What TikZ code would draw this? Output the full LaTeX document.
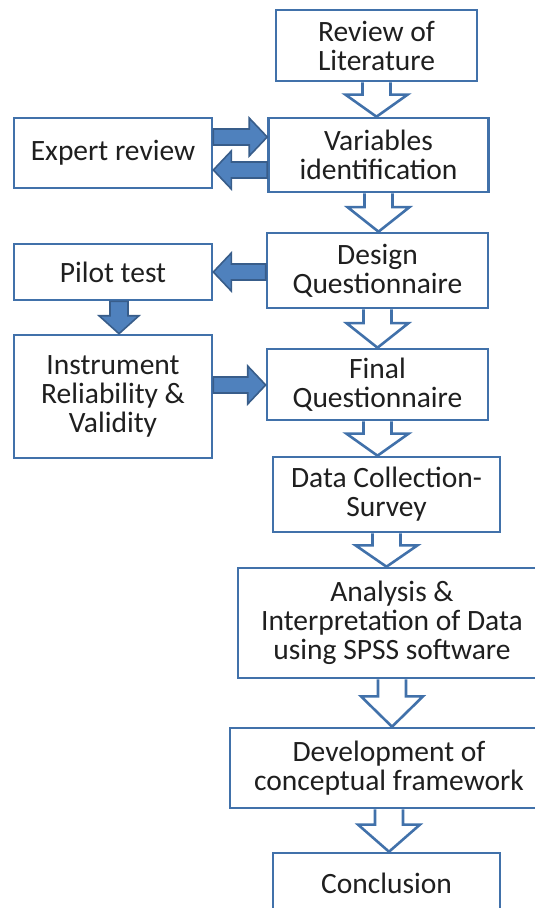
\documentclass[tikz,border=0pt]{standalone}
\usepackage{fontspec}
\setmainfont{Carlito}
\usetikzlibrary{calc}
\definecolor{boxblue}{RGB}{65,113,170}
\definecolor{arrowfill}{RGB}{79,129,189}
\definecolor{arrowline}{RGB}{56,93,138}

% hollow block arrow, straight down from one box to the next
\newcommand{\hollowdown}[2]{%
  \draw[hollowarrow] let \p1=(#1.south), \p2=(#2.north), \n1={0.64*(\y1-\y2)} in
    (\x1-14,\y1) -- (\x1-14,\y2+\n1) -- (\x1-31,\y2+\n1) -- (\x1,\y2)
    -- (\x1+31,\y2+\n1) -- (\x1+14,\y2+\n1) -- (\x1+14,\y1);}

% filled block arrow, sideways at height #3
\newcommand{\solidside}[3]{%
  \draw[solidarrow] let \p1=(#1), \p2=(#2), \p3=(0,#3), \n1={sign(\x2-\x1)} in
    (\x1,\y3+8) -- (\x2-\n1*18,\y3+8) -- (\x2-\n1*18,\y3+19) -- (\x2,\y3)
    -- (\x2-\n1*18,\y3-19) -- (\x2-\n1*18,\y3-8) -- (\x1,\y3-8) -- cycle;}

% filled block arrow, downwards at column #3
\newcommand{\soliddown}[3]{%
  \draw[solidarrow] let \p1=(#1), \p2=(#2), \p3=(#3,0) in
    (\x3-9,\y1) -- (\x3-9,\y2+18) -- (\x3-20,\y2+18) -- (\x3,\y2)
    -- (\x3+20,\y2+18) -- (\x3+9,\y2+18) -- (\x3+9,\y1) -- cycle;}

\begin{document}
\begin{tikzpicture}[
  x=1pt, y=-1pt,
  box/.style={draw=boxblue, line width=2.6pt, fill=white, align=center,
    inner sep=0pt, text=black!88, font=\fontsize{29.5}{29}\selectfont},
  hollowarrow/.style={draw=boxblue, line width=2.6pt, line join=miter},
  solidarrow/.style={fill=arrowfill, draw=arrowline, line width=1.6pt, line join=miter},
]
\useasboundingbox (0,0) rectangle (535,908);
\clip (0,0) rectangle (535,908);

% ── main column ─────────────────────
\node[box, minimum width=201, minimum height=71] (lit) at (376.5,45.5) {Review of\\Literature};
\node[box, minimum width=220, minimum height=74] (var) at (378.5,155) {Variables\\identification};
\node[box, minimum width=221, minimum height=75] (design) at (377.5,270.5) {Design\\Questionnaire};
\node[box, minimum width=221, minimum height=71] (final) at (377.5,384.5) {Final\\Questionnaire};
\node[box, minimum width=227, minimum height=75] (survey) at (386.5,494.5) {Data Collection-\\Survey};
\node[box, minimum width=308, minimum height=110] (spss) at (392,623) {Analysis \&\\Interpretation of Data\\using SPSS software};
\node[box, minimum width=318, minimum height=80] (frame) at (389,768) {Development of\\conceptual framework};
\node[box, minimum width=227, minimum height=60] (concl) at (386.5,883) {Conclusion};

% ── side column ─────────────────────
\node[box, minimum width=198, minimum height=70] (expert) at (113,153) {Expert review};
\node[box, minimum width=198, minimum height=56] (pilot) at (113,272) {Pilot test};
\node[box, minimum width=198, minimum height=123] (instr) at (113,396.5) {Instrument\\Reliability \&\\Validity};

% ── hollow arrows down the main column ──
\hollowdown{lit}{var}
\hollowdown{var}{design}
\hollowdown{design}{final}
\hollowdown{final}{survey}
\hollowdown{survey}{spss}
\hollowdown{spss}{frame}
\hollowdown{frame}{concl}

% ── filled arrows ───────────────────
\solidside{expert.east}{var.west}{137}
\solidside{var.west}{expert.east}{170}
\solidside{design.west}{pilot.east}{272}
\soliddown{pilot.south}{instr.north}{119}
\solidside{instr.east}{final.west}{385}

\end{tikzpicture}
\end{document}
